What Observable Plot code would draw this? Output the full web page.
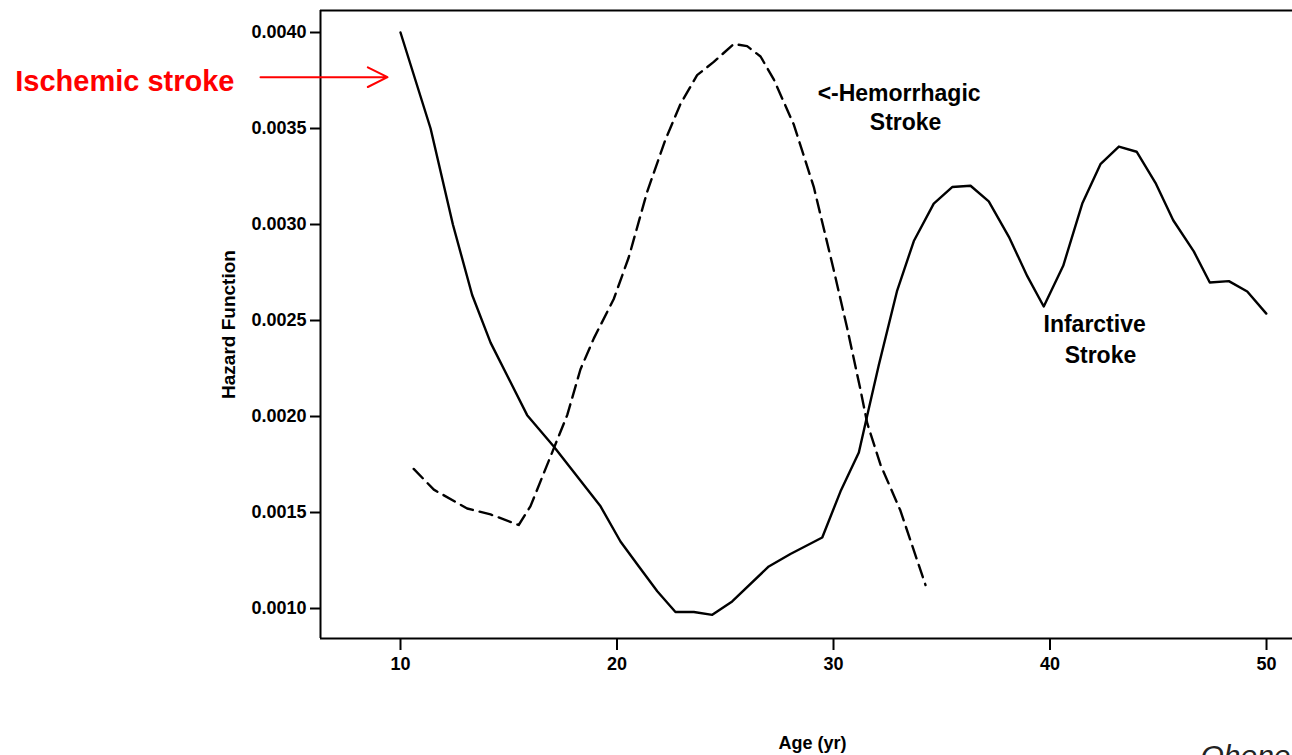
<!DOCTYPE html>
<html>
<head>
<meta charset="utf-8">
<script src="https://cdn.jsdelivr.net/npm/d3@7"></script>
<script src="https://cdn.jsdelivr.net/npm/@observablehq/plot@0.6"></script>
<style>
  html, body { margin: 0; padding: 0; background: #fff; overflow: hidden; }
  #chart { width: 1292px; height: 755px; }
</style>
</head>
<body>
<div id="chart"></div>
<script>
// Infarctive (ischemic) stroke hazard — solid curve
const ischemicAge = [10.0, 11.39, 12.42, 13.31, 14.16, 15.85, 17.07, 19.24, 20.16, 21.01, 21.86, 22.70, 23.55, 24.40, 25.32, 27.01, 28.01, 29.48, 30.32, 31.17, 31.56, 32.09, 32.94, 33.71, 34.63, 35.48, 36.33, 37.17, 38.10, 38.95, 39.71, 40.61, 41.49, 42.33, 43.18, 44.00, 44.87, 45.69, 46.64, 47.38, 48.26, 49.11, 49.99];
const ischemicHazard = [0.00400, 0.00350, 0.00300, 0.002633, 0.002385, 0.002007, 0.001845, 0.001532, 0.001349, 0.001219, 0.001090, 0.000982, 0.000982, 0.000967, 0.001037, 0.001219, 0.001284, 0.001370, 0.001609, 0.001813, 0.002007, 0.002267, 0.002656, 0.002914, 0.003109, 0.003195, 0.003202, 0.003120, 0.002936, 0.002731, 0.002573, 0.002785, 0.003109, 0.003314, 0.003406, 0.003379, 0.003217, 0.003022, 0.002860, 0.002698, 0.002705, 0.002651, 0.002536];

// Hemorrhagic stroke hazard — dashed curve
const hemAge = [10.61, 11.54, 13.08, 14.16, 15.46, 16.00, 17.08, 17.70, 18.31, 18.93, 19.85, 20.54, 21.40, 22.24, 22.93, 23.70, 24.47, 25.39, 26.01, 26.63, 27.24, 28.17, 29.09, 30.01, 30.63, 31.25, 31.56, 32.17, 33.09, 34.25];
const hemHazard = [0.001727, 0.001619, 0.001521, 0.001490, 0.001435, 0.001532, 0.001834, 0.002007, 0.002245, 0.002407, 0.002612, 0.002828, 0.003173, 0.003443, 0.003627, 0.003778, 0.003847, 0.003940, 0.003929, 0.003875, 0.003756, 0.003519, 0.003195, 0.002763, 0.002461, 0.002137, 0.001964, 0.001749, 0.001510, 0.001122];

const xTicks = [10, 20, 30, 40, 50];
const yTicks = [0.0010, 0.0015, 0.0020, 0.0025, 0.0030, 0.0035, 0.0040];

const ischemic = ischemicAge.map((a, i) => ({age: a, hazard: ischemicHazard[i]}));
const hemorrhagic = hemAge.map((a, i) => ({age: a, hazard: hemHazard[i]}));

const font = "'Liberation Sans', Arial, Helvetica, sans-serif";
const xDomain = [6.305, 51.2];
const yDomain = [0.0008438, 0.0041146];

const chart = Plot.plot({
  width: 1292,
  height: 755,
  marginLeft: 320,
  marginRight: 0,
  marginTop: 10,
  marginBottom: 117,
  style: {fontFamily: font, fontSize: "18px", fontWeight: "bold", background: "#fff", color: "#000", overflow: "hidden"},
  x: {domain: xDomain},
  y: {domain: yDomain},
  marks: [
    // frame (left, bottom, top)
    Plot.ruleX([xDomain[0]], {stroke: "#000", strokeWidth: 2}),
    Plot.ruleY([yDomain[0]], {stroke: "#000", strokeWidth: 2}),
    Plot.ruleY([yDomain[1]], {stroke: "#000", strokeWidth: 2}),
    Plot.axisX({ticks: xTicks, tickSize: 12, tickPadding: 7, label: null, fontSize: 18, fontWeight: "bold", strokeWidth: 2, tickFormat: d3.format("d")}),
    Plot.axisY({ticks: yTicks, tickSize: 10, tickPadding: 4, label: null, fontSize: 18, fontWeight: "bold", strokeWidth: 2, tickFormat: d3.format(".4f")}),
    // curves
    Plot.line(hemorrhagic, {x: "age", y: "hazard", stroke: "#000", strokeWidth: 2.4, strokeDasharray: "13,7", strokeLinejoin: "round"}),
    Plot.line(ischemic, {x: "age", y: "hazard", stroke: "#000", strokeWidth: 2.4, strokeLinejoin: "round"}),
    // annotations
    Plot.text(["<-Hemorrhagic"], {x: 33.03, y: 0.003684, fontSize: 23, fontWeight: "bold", textAnchor: "middle"}),
    Plot.text(["Stroke"], {x: 33.33, y: 0.003533, fontSize: 23, fontWeight: "bold", textAnchor: "middle"}),
    Plot.text(["Infarctive"], {x: 42.06, y: 0.0024776, fontSize: 23, fontWeight: "bold", textAnchor: "middle"}),
    Plot.text(["Stroke"], {x: 42.33, y: 0.0023156, fontSize: 23, fontWeight: "bold", textAnchor: "middle"}),
    Plot.text(["Ischemic stroke"], {x: 2.333, y: 0.0037412, fontSize: 29, fontWeight: "bold", fill: "#ff0000", textAnchor: "end"}),
    Plot.arrow([0], {x1: 3.533, y1: 0.0037672, x2: 9.40, y2: 0.0037672, stroke: "#ff0000", strokeWidth: 2, headLength: 16.5, headAngle: 53}),
    // axis titles
    Plot.text(["Hazard Function"], {frameAnchor: "left", dx: -92, rotate: -90, textAnchor: "middle", lineAnchor: "middle", fontSize: 19, fontWeight: "bold"}),
    Plot.text(["Age (yr)"], {x: 29.03, frameAnchor: "bottom", dy: 105, textAnchor: "middle", lineAnchor: "middle", fontSize: 18, fontWeight: "bold"}),
    Plot.text(["Ohene-Frempong et al."], {x: 46.95, frameAnchor: "bottom", dy: 118, textAnchor: "start", lineAnchor: "middle", fontSize: 30, fontWeight: "normal", fontStyle: "italic", fill: "#222"})
  ]
});
document.getElementById("chart").appendChild(chart);
</script>
</body>
</html>
